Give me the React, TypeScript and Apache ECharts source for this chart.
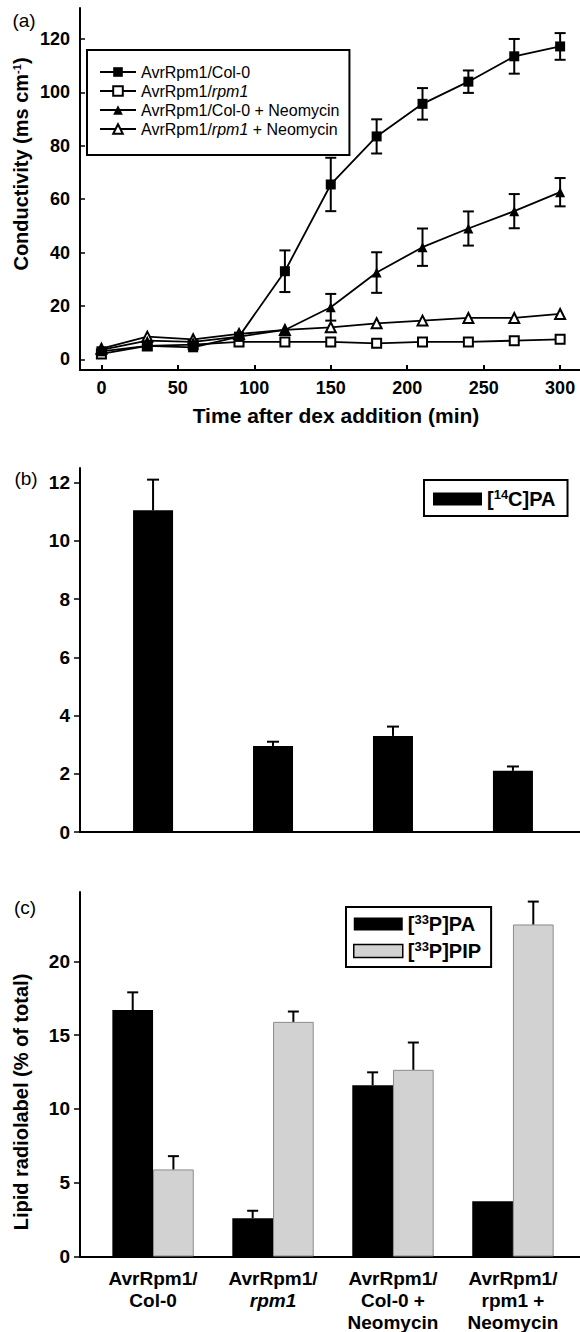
import React, { useEffect, useRef } from "react";
import * as echarts from "echarts";

const FONT = "'Liberation Sans', Arial, Helvetica, sans-serif";

// ---------- Panel (a) data ----------
const times = [0, 30, 60, 90, 120, 150, 180, 210, 240, 270, 300];
const col0 = [3, 5, 4.5, 8.5, 33, 65.5, 83.5, 95.7, 104, 113.5, 117.2];
const col0Err = [0, 0, 0, 0, 7.8, 10, 6.4, 5.9, 4.2, 6.5, 5];
const rpm1 = [2, 5, 5.5, 6.5, 6.5, 6.5, 6, 6.5, 6.5, 7, 7.5];
const col0Neo = [3.5, 7, 6.5, 8.5, 11, 19.5, 32.5, 42, 49, 55.5, 62.6];
const col0NeoErr = [0, 0, 0, 0, 0, 5, 7.6, 7, 6.4, 6.4, 5.3];
const rpm1Neo = [4, 8.5, 7.5, 9.5, 11, 12, 13.5, 14.5, 15.5, 15.5, 17];
const xTicksA = [0, 50, 100, 150, 200, 250, 300];
const yTicksA = [0, 20, 40, 60, 80, 100, 120];
const namesA = [
  "AvrRpm1/Col-0",
  "AvrRpm1/rpm1",
  "AvrRpm1/Col-0 + Neomycin",
  "AvrRpm1/rpm1 + Neomycin",
];

// ---------- Panel (b) data ----------
const pa14 = [11.05, 2.95, 3.3, 2.1];
const pa14Err = [1.05, 0.15, 0.32, 0.15];
const yTicksB = [0, 2, 4, 6, 8, 10, 12];

// ---------- Panel (c) data ----------
const pa33 = [16.7, 2.6, 11.6, 3.75];
const pa33Err = [1.2, 0.5, 0.88, 0];
const pip33 = [5.9, 15.9, 12.65, 22.5];
const pip33Err = [0.9, 0.7, 1.85, 1.55];
const yTicksC = [0, 5, 10, 15, 20];
const groupLabels = [
  "{b|AvrRpm1/}\n{b|Col-0}",
  "{b|AvrRpm1/}\n{i|rpm1}",
  "{b|AvrRpm1/}\n{b|Col-0 +}\n{b|Neomycin}",
  "{b|AvrRpm1/}\n{b|rpm1 +}\n{b|Neomycin}",
];
const groupIdx = [0, 1, 2, 3];

function errRender(offsetPx: number, twoSided: boolean, cap: number) {
  return (params: any, api: any) => {
    const x = api.value(0);
    const v = api.value(1);
    const e = api.value(2);
    const pBot = api.coord([x, twoSided ? v - e : v]);
    const pTop = api.coord([x, v + e]);
    const cx = pBot[0] + offsetPx;
    const st = { stroke: "#000", lineWidth: 2 };
    const children: any[] = [
      { type: "line", shape: { x1: cx, y1: pBot[1], x2: cx, y2: pTop[1] }, style: st },
      { type: "line", shape: { x1: cx - cap / 2, y1: pTop[1], x2: cx + cap / 2, y2: pTop[1] }, style: st },
    ];
    if (twoSided) {
      children.push({
        type: "line",
        shape: { x1: cx - cap / 2, y1: pBot[1], x2: cx + cap / 2, y2: pBot[1] },
        style: st,
      });
    }
    return { type: "group", children };
  };
}

function withErr(xs: number[], vals: number[], errs: number[]) {
  return xs
    .map((x, i) => [x, vals[i], errs[i]])
    .filter((d) => d[2] > 0);
}

const legendRichA: Record<string, string> = {
  "AvrRpm1/Col-0": "{n|AvrRpm1/Col-0}",
  "AvrRpm1/rpm1": "{n|AvrRpm1/}{i|rpm1}",
  "AvrRpm1/Col-0 + Neomycin": "{n|AvrRpm1/Col-0 + Neomycin}",
  "AvrRpm1/rpm1 + Neomycin": "{n|AvrRpm1/}{i|rpm1}{n| + Neomycin}",
};
const legendRichBC: Record<string, string> = {
  "[14C]PA": "{b|[}{s|14}{b|C]PA}",
  "[33P]PA": "{b|[}{s|33}{b|P]PA}",
  "[33P]PIP": "{b|[}{s|33}{b|P]PIP}",
};

export default function App() {
  const ref = useRef<HTMLDivElement>(null);
  useEffect(() => {
    document.body.style.margin = "0";
    const chart = echarts.init(ref.current!, null, { renderer: "svg" });
    const axisLine = { show: true, onZero: false, lineStyle: { color: "#000", width: 2 } };
    const tickLabel = { color: "#000", fontFamily: FONT, fontWeight: "bold" as const, fontSize: 18 };
    const lineStyle = { color: "#000", width: 1.8 };
    const legendText = {
      fontFamily: FONT,
      fontSize: 16,
      color: "#000",
      lineHeight: 16,
      rich: {
        n: { fontFamily: FONT, fontSize: 16, color: "#000", lineHeight: 16 },
        i: { fontFamily: FONT, fontSize: 16, color: "#000", lineHeight: 16, fontStyle: "italic" },
      },
    };
    const legendTextBC = {
      fontFamily: FONT,
      fontSize: 20,
      color: "#000",
      fontWeight: "bold",
      rich: {
        b: { fontFamily: FONT, fontSize: 20, fontWeight: "bold", color: "#000", lineHeight: 21 },
        s: { fontFamily: FONT, fontSize: 13, fontWeight: "bold", color: "#000", padding: [0, 0, 9, 0] },
      },
    };

    const option: any = {
      animation: false,
      backgroundColor: "#fff",
      grid: [
        { left: 80, top: 8, width: 500, height: 362 },
        { left: 80, top: 468, width: 500, height: 364 },
        { left: 80, top: 892, width: 500, height: 365 },
      ],
      xAxis: [
        {
          gridIndex: 0,
          type: "value",
          min: -14,
          max: 313,
          axisLine,
          splitLine: { show: false },
          axisTick: { show: true, inside: true, length: 5, customValues: xTicksA, lineStyle: { color: "#000", width: 2 } },
          axisLabel: { ...tickLabel, margin: 9, customValues: xTicksA },
        },
        {
          gridIndex: 1,
          type: "value",
          min: -0.609,
          max: 3.559,
          axisLine,
          splitLine: { show: false },
          axisTick: { show: false },
          axisLabel: { show: false },
        },
        {
          gridIndex: 2,
          type: "value",
          min: -0.609,
          max: 3.559,
          axisLine,
          splitLine: { show: false },
          axisTick: { show: false },
          axisLabel: {
            customValues: groupIdx,
            margin: 11,
            formatter: (v: number) => groupLabels[Math.round(v)],
            rich: {
              b: { fontFamily: FONT, fontSize: 19, fontWeight: "bold", color: "#000", lineHeight: 22 },
              i: { fontFamily: FONT, fontSize: 19, fontWeight: "bold", fontStyle: "italic", color: "#000", lineHeight: 22 },
            },
          },
        },
      ],
      yAxis: [
        {
          gridIndex: 0,
          type: "value",
          min: -4,
          max: 131.6,
          axisLine,
          splitLine: { show: false },
          axisTick: { show: true, inside: true, length: 5, customValues: yTicksA, lineStyle: { color: "#000", width: 1.5 } },
          axisLabel: { ...tickLabel, margin: 10, customValues: yTicksA },
        },
        {
          gridIndex: 1,
          type: "value",
          min: 0,
          max: 12.5,
          axisLine,
          splitLine: { show: false },
          axisTick: { show: true, inside: false, length: 6, customValues: yTicksB, lineStyle: { color: "#000", width: 1.5 } },
          axisLabel: { ...tickLabel, fontSize: 19, margin: 10, customValues: yTicksB },
        },
        {
          gridIndex: 2,
          type: "value",
          min: 0,
          max: 24.7,
          axisLine,
          splitLine: { show: false },
          axisTick: { show: true, inside: false, length: 6, customValues: yTicksC, lineStyle: { color: "#000", width: 1.5 } },
          axisLabel: { ...tickLabel, fontSize: 19, margin: 10, customValues: yTicksC },
        },
      ],
      legend: [
        {
          data: namesA,
          orient: "vertical",
          left: 87,
          top: 50,
          padding: [14, 10, 18, 12],
          itemWidth: 36,
          itemHeight: 12,
          itemGap: 3,
          borderColor: "#000",
          borderWidth: 2,
          backgroundColor: "#fff",
          selectedMode: false,
          formatter: (n: string) => legendRichA[n],
          textStyle: legendText,
        },
        {
          data: ["[14C]PA"],
          orient: "vertical",
          left: 424,
          top: 480,
          padding: [8, 12, 7, 9],
          icon: "rect",
          itemWidth: 49,
          itemHeight: 13,
          borderColor: "#000",
          borderWidth: 2,
          selectedMode: false,
          formatter: (n: string) => legendRichBC[n],
          textStyle: legendTextBC,
        },
        {
          data: [
            { name: "[33P]PA" },
            { name: "[33P]PIP", itemStyle: { borderColor: "#000", borderWidth: 1.5 } },
          ],
          orient: "vertical",
          left: 346,
          top: 907,
          padding: [6, 10, 6, 7],
          icon: "rect",
          itemWidth: 49,
          itemHeight: 13,
          itemGap: 6,
          borderColor: "#000",
          borderWidth: 2,
          selectedMode: false,
          formatter: (n: string) => legendRichBC[n],
          textStyle: legendTextBC,
        },
      ],
      graphic: [
        { type: "text", x: 24, y: 20, style: { text: "(a)", font: `19px ${FONT}`, fill: "#000", align: "center", verticalAlign: "middle" } },
        { type: "text", x: 26, y: 478, style: { text: "(b)", font: `19px ${FONT}`, fill: "#000", align: "center", verticalAlign: "middle" } },
        { type: "text", x: 25, y: 907, style: { text: "(c)", font: `19px ${FONT}`, fill: "#000", align: "center", verticalAlign: "middle" } },
        {
          type: "text",
          x: 336,
          y: 415,
          style: { text: "Time after dex addition (min)", font: `bold 21px ${FONT}`, fill: "#000", align: "center", verticalAlign: "middle" },
        },
        {
          type: "text",
          x: 21,
          y: 164,
          rotation: Math.PI / 2,
          style: {
            text: "{t|Conductivity (ms cm}{s|-1}{t|)}",
            align: "center",
            verticalAlign: "middle",
            rich: {
              t: { fontFamily: FONT, fontSize: 20, fontWeight: "bold", fill: "#000" },
              s: { fontFamily: FONT, fontSize: 11, fontWeight: "bold", fill: "#000", padding: [0, 0, 9, 0] },
            },
          },
        },
        {
          type: "text",
          x: 21,
          y: 1102,
          rotation: Math.PI / 2,
          style: {
            text: "Lipid radiolabel (% of total)",
            font: `bold 20px ${FONT}`,
            fill: "#000",
            align: "center",
            verticalAlign: "middle",
          },
        },
      ],
      series: [
        // panel (a) error bars
        {
          type: "custom",
          xAxisIndex: 0,
          yAxisIndex: 0,
          renderItem: errRender(0, true, 11),
          encode: { x: 0, y: 1 },
          data: withErr(times, col0, col0Err),
          z: 1,
          silent: true,
        },
        {
          type: "custom",
          xAxisIndex: 0,
          yAxisIndex: 0,
          renderItem: errRender(0, true, 11),
          encode: { x: 0, y: 1 },
          data: withErr(times, col0Neo, col0NeoErr),
          z: 1,
          silent: true,
        },
        {
          name: namesA[0],
          type: "line",
          xAxisIndex: 0,
          yAxisIndex: 0,
          data: times.map((t, i) => [t, col0[i]]),
          symbol: "rect",
          symbolSize: 10,
          lineStyle,
          itemStyle: { color: "#000" },
          z: 5,
        },
        {
          name: namesA[1],
          type: "line",
          xAxisIndex: 0,
          yAxisIndex: 0,
          data: times.map((t, i) => [t, rpm1[i]]),
          symbol: "emptyRect",
          symbolSize: 9,
          lineStyle,
          itemStyle: { color: "#000", borderWidth: 1.6 },
          z: 4,
        },
        {
          name: namesA[2],
          type: "line",
          xAxisIndex: 0,
          yAxisIndex: 0,
          data: times.map((t, i) => [t, col0Neo[i]]),
          symbol: "triangle",
          symbolSize: 10,
          lineStyle,
          itemStyle: { color: "#000" },
          z: 5,
        },
        {
          name: namesA[3],
          type: "line",
          xAxisIndex: 0,
          yAxisIndex: 0,
          data: times.map((t, i) => [t, rpm1Neo[i]]),
          symbol: "emptyTriangle",
          symbolSize: 10,
          lineStyle,
          itemStyle: { color: "#000", borderWidth: 1.4 },
          z: 4,
        },
        // panel (b)
        {
          name: "[14C]PA",
          type: "bar",
          xAxisIndex: 1,
          yAxisIndex: 1,
          barWidth: 40,
          data: groupIdx.map((g, i) => [g, pa14[i]]),
          itemStyle: { color: "#000" },
        },
        {
          type: "custom",
          xAxisIndex: 1,
          yAxisIndex: 1,
          renderItem: errRender(0, false, 12),
          encode: { x: 0, y: 1 },
          data: withErr(groupIdx, pa14, pa14Err),
          z: 3,
          silent: true,
        },
        // panel (c)
        {
          name: "[33P]PA",
          type: "bar",
          xAxisIndex: 2,
          yAxisIndex: 2,
          barWidth: 40.7,
          barGap: "0%",
          data: groupIdx.map((g, i) => [g, pa33[i]]),
          itemStyle: { color: "#000" },
        },
        {
          name: "[33P]PIP",
          type: "bar",
          xAxisIndex: 2,
          yAxisIndex: 2,
          barWidth: 40.7,
          barGap: "0%",
          data: groupIdx.map((g, i) => [g, pip33[i]]),
          itemStyle: { color: "#d2d2d2", borderColor: "#8c8c8c", borderWidth: 1 },
        },
        {
          type: "custom",
          xAxisIndex: 2,
          yAxisIndex: 2,
          renderItem: errRender(-20.35, false, 11),
          encode: { x: 0, y: 1 },
          data: withErr(groupIdx, pa33, pa33Err),
          z: 3,
          silent: true,
        },
        {
          type: "custom",
          xAxisIndex: 2,
          yAxisIndex: 2,
          renderItem: errRender(20.35, false, 11),
          encode: { x: 0, y: 1 },
          data: withErr(groupIdx, pip33, pip33Err),
          z: 3,
          silent: true,
        },
      ],
    };
    chart.setOption(option);
    return () => chart.dispose();
  }, []);
  return <div ref={ref} style={{ width: 580, height: 1332 }} />;
}
